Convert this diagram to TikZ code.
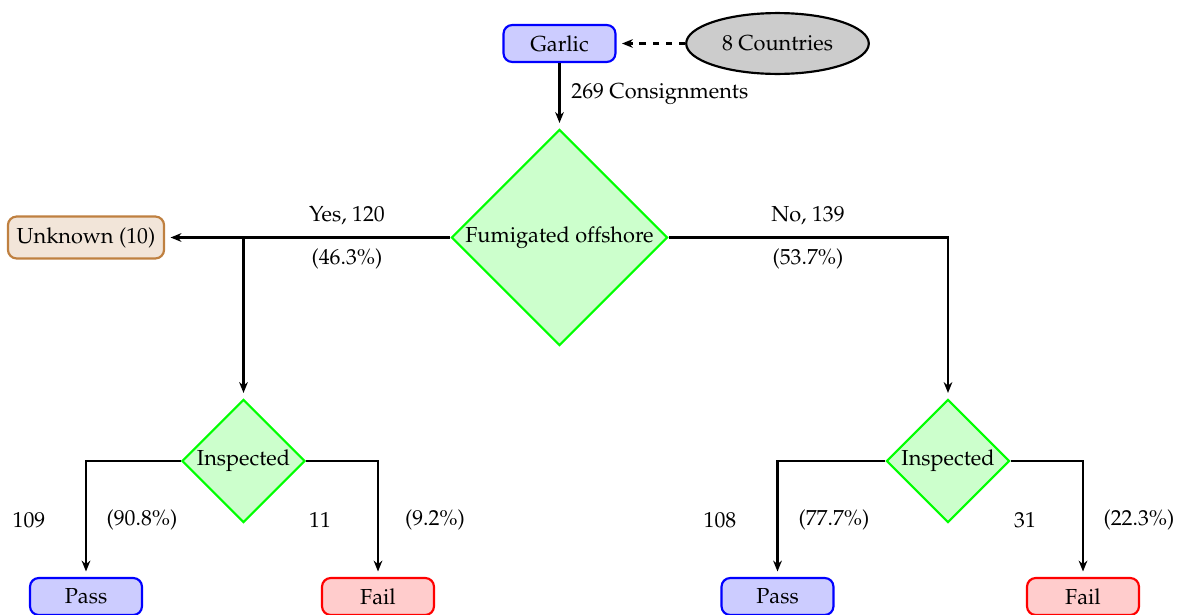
\documentclass[tikz,border=0pt]{standalone}
\usepackage[T1]{fontenc}
\usepackage{mathpazo}
\usetikzlibrary{shapes.geometric,arrows.meta}
\tikzset{
  box/.style={rectangle, rounded corners=4pt, line width=1pt, minimum width=51.5pt, minimum height=17pt, inner sep=2pt},
  bluebox/.style={box, draw=blue, fill=blue!20},
  redbox/.style={box, draw=red, fill=red!20},
  brownbox/.style={box, draw=brown, fill=brown!20, minimum width=71.8pt, minimum height=19.3pt},
  cloud/.style={ellipse, draw=black, line width=1pt, fill=gray!40, minimum width=84pt, minimum height=28pt},
  decision/.style={diamond, draw=green, line width=1pt, fill=green!20, aspect=1, inner sep=0pt},
  arr/.style={line width=1pt, -{Stealth[length=5pt,width=4pt,inset=1.6pt]}, shorten >=2.5pt},
  lbl/.style={inner sep=0pt}
}
\begin{document}
\begin{tikzpicture}[x=0.46pt,y=-0.46pt]
\useasboundingbox (0,0) rectangle (1181,614);
% nodes
\node[bluebox] (garlic) at (559.5,43.5) {Garlic};
\node[cloud] (countries) at (777.5,43.5) {8 Countries};
\node[decision, minimum width=99.4pt, minimum height=99.4pt] (fum) at (559.5,237.5) {Fumigated offshore};
\node[brownbox] (unk) at (86,237.5) {Unknown (10)};
\node[decision, minimum width=56.6pt, minimum height=56.6pt] (insL) at (243.5,461) {Inspected};
\node[decision, minimum width=56.6pt, minimum height=56.6pt] (insR) at (948,461) {Inspected};
\node[bluebox] (passL) at (86,596.5) {Pass};
\node[redbox] (failL) at (378,596.5) {Fail};
\node[bluebox] (passR) at (777.5,596.5) {Pass};
\node[redbox] (failR) at (1083,596.5) {Fail};
\coordinate (yb) at (243.5,237.5);
% connectors
\draw[arr, dashed] (countries.west) -- (garlic.east);
\draw[arr] (garlic.south) -- (fum.north);
\draw[arr] (fum.west) -- (unk.east);
\draw[arr] (yb) -- (insL.north);
\draw[arr] (fum.east) -| (insR.north);
\draw[arr] (insL.west) -| (passL.north);
\draw[arr] (insL.east) -| (failL.north);
\draw[arr] (insR.west) -| (passR.north);
\draw[arr] (insR.east) -| (failR.north);
% labels
\node[lbl, anchor=west] (lc) at (571,94) {269 Consignments};
\node[lbl] (ly1) at (347,216) {Yes, 120};
\node[lbl] (ly2) at (347,259) {(46.3\%)};
\node[lbl] (ln1) at (808,216) {No, 139};
\node[lbl] (ln2) at (808,259) {(53.7\%)};
\node[lbl] (a1) at (29,520) {109};
\node[lbl] (a2) at (142,520) {(90.8\%)};
\node[lbl] (b1) at (320,520) {11};
\node[lbl] (b2) at (435,520) {(9.2\%)};
\node[lbl] (c1) at (720,520) {108};
\node[lbl] (c2) at (834,520) {(77.7\%)};
\node[lbl] (d1) at (1025,520) {31};
\node[lbl] (d2) at (1139,520) {(22.3\%)};
\end{tikzpicture}
\end{document}
